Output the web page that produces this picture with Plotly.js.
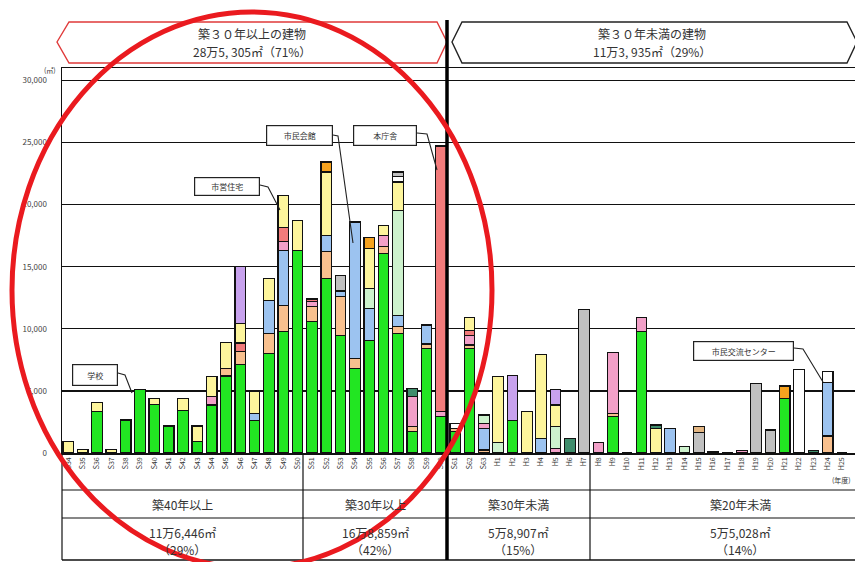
<!DOCTYPE html>
<html>
<head>
<meta charset="utf-8">
<script src="https://cdn.plot.ly/plotly-3.0.1.min.js"></script>
<style>html,body{margin:0;padding:0;background:#fff;}#chart{width:855px;height:562px;}</style>
</head>
<body>
<div id="chart"></div>
<script>
// ---- data ----
const categories = ["S34","S35","S36","S37","S38","S39","S40","S41","S42","S43","S44","S45","S46","S47","S48","S49","S50",
  "S51","S52","S53","S54","S55","S56","S57","S58","S59","S60",
  "S61","S62","S63","H1","H2","H3","H4","H5","H6","H7",
  "H8","H9","H10","H11","H12","H13","H14","H15","H16","H17","H18","H19","H20","H21","H22","H23","H24","H25"];

const seriesNames = ["学校教育系施設","子育て支援施設","市民文化系施設","保健・福祉施設","行政系施設","社会教育系施設","公営住宅","スポーツ・レクリエーション系施設","産業系施設","公園","供給処理施設","その他","上下水道施設"];
const seriesColors = ["#22e622","#f8c08e","#9cc3f0","#f2a0c8","#f27b7b","#cdf2cd","#fdf59c","#c8a2ee","#f5a21f","#ffffff","#c0c0c0","#3f8d6c","#e3b683"];

// values per category (m2), index 0..54
const green = [0,0,3320,0,2650,5120,3910,2170,3400,910,3860,6200,7100,2600,8020,9760,16330,
  10560,14050,9490,6810,9090,16060,9630,1710,8420,2920,
  1700,8420,0,0,2600,0,0,0,0,0,
  0,2920,0,9760,0,0,0,0,0,0,0,0,0,4400,0,0,0,0];
const peach = [0,0,0,0,0,0,0,0,0,0,0,600,1050,0,1610,2090,0,
  1210,2150,3080,800,0,590,530,410,350,0,
  250,270,250,0,0,0,0,0,0,0,
  0,270,0,0,0,0,0,0,0,0,0,0,0,0,0,0,1370,0];
const blue = [0,0,0,0,0,0,0,0,0,0,0,0,0,590,2680,4480,0,
  0,1330,480,10990,2550,0,940,0,1530,0,
  0,0,1730,0,0,0,1180,0,0,0,
  0,0,0,0,0,1980,0,0,0,0,0,0,0,0,0,0,4280,0];
const pink = [0,0,0,0,0,0,0,0,0,0,670,0,0,0,0,670,0,
  400,0,0,0,0,880,0,2410,0,400,
  0,800,410,0,0,0,0,380,0,0,
  850,4880,0,1150,0,0,0,0,0,0,200,0,0,0,0,0,0,0];
const red = [0,0,0,0,0,0,0,0,0,0,0,0,700,0,0,1150,0,
  230,0,0,0,0,0,0,0,0,21400,
  0,350,0,0,0,0,0,0,0,0,
  0,0,0,0,0,0,0,0,0,0,0,0,0,0,0,0,0,0];
const lightgreen = [0,0,0,0,0,0,0,0,0,0,0,0,0,0,0,0,0,
  0,0,0,0,1610,0,8440,0,0,0,
  0,0,670,830,0,0,0,1740,0,0,
  0,0,0,0,0,0,510,0,0,0,0,0,0,0,0,0,0,0];
const yellow = [910,300,730,300,0,0,490,0,1000,1260,1660,2100,1600,1740,1740,2600,2410,
  0,5090,0,0,3210,810,2280,0,0,0,
  0,1070,0,5360,0,3320,6780,1740,0,0,
  0,0,0,0,1980,0,0,0,0,0,0,0,0,0,0,0,0,0];
const purple = [0,0,0,0,0,0,0,0,0,0,0,0,4550,0,0,0,0,
  0,0,0,0,0,0,0,0,0,0,
  0,0,0,0,3620,0,0,1260,0,0,
  0,0,0,0,0,0,0,0,0,0,0,0,0,0,0,0,0,0];
const orange = [0,0,0,0,0,0,0,0,0,0,0,0,0,0,0,0,0,
  0,810,0,0,890,0,0,0,0,0,
  0,0,0,0,0,0,0,0,0,0,
  0,0,0,0,0,0,0,0,0,0,0,0,0,990,0,0,0,0];
const white = [0,0,0,0,0,0,0,0,0,0,0,0,0,0,0,0,0,
  0,0,0,0,0,0,460,0,0,0,
  450,0,0,0,0,0,0,0,0,0,
  0,0,0,0,0,0,0,0,0,0,0,0,0,0,6730,0,890,0];
const gray = [0,0,0,0,0,0,0,0,0,0,0,0,0,0,0,0,0,
  0,0,1270,0,0,0,350,0,0,0,
  0,0,0,0,0,0,0,0,0,11560,
  0,0,0,0,0,0,0,1630,120,0,0,5600,1850,0,0,0,0,0];
const teal = [0,0,0,0,0,0,0,0,0,0,0,0,0,0,0,0,0,
  0,0,0,0,0,0,0,670,0,0,
  0,0,0,0,0,0,0,0,1180,0,
  0,0,0,0,270,0,0,0,0,0,0,0,0,0,0,180,0,0];
const tan = [0,0,0,0,0,0,0,0,0,0,0,0,0,0,0,0,0,
  0,0,0,0,0,0,0,0,0,0,
  0,0,0,0,0,0,0,0,0,0,
  0,0,0,0,0,0,0,490,0,0,0,0,0,0,0,0,0,0];

const yTickVals = [0,5000,10000,15000,20000,25000,30000];
const yTickText = ["0","5,000","10,000","15,000","20,000","25,000","30,000"];

const headerTexts = ["築３０年以上の建物","28万5, 305㎡（71%）","築３０年未満の建物","11万3, 935㎡（29%）"];
const groupNames = ["築40年以上","築30年以上","築30年未満","築20年未満"];
const groupAreas = ["11万6,446㎡","16万8,859㎡","5万8,907㎡","5万5,028㎡"];
const groupShares = ["（29%）","（42%）","（15%）","（14%）"];
const callouts = ["学校","市営住宅","市民会館","本庁舎","市民交流センター"];

// ---- build ----
const FONT = "Noto Sans CJK JP, Noto Sans, sans-serif";
const L=62, R=855, T=68, B=453;
const px = x => (x-L)/(R-L);
const py = y => (B-y)/(B-T);

const allSeries = [green,peach,blue,pink,red,lightgreen,yellow,purple,orange,white,gray,teal,tan];
const traces = allSeries.map((vals,i)=>({
  type:'bar', x:categories, y:vals, name:seriesNames[i],
  marker:{color:seriesColors[i], line:{color:'#111', width:1.2}},
  width:0.74, hoverinfo:'skip'
}));

function path(pts, close){
  let s = pts.map((p,i)=>(i?'L':'M')+px(p[0]).toFixed(5)+','+py(p[1]).toFixed(5)).join(' ');
  return close ? s+' Z' : s;
}
function hline(y,x0,x1,w,c){return {type:'line',xref:'paper',yref:'paper',x0:px(x0),x1:px(x1),y0:py(y),y1:py(y),line:{color:c||'#111',width:w||1.2},layer:'above'};}
function vline(x,y0,y1,w,c){return {type:'line',xref:'paper',yref:'paper',x0:px(x),x1:px(x),y0:py(y0),y1:py(y1),line:{color:c||'#111',width:w||1.2},layer:'above'};}

const shapes = [
  // header hexagons
  {type:'path',xref:'paper',yref:'paper',path:path([[57,42],[69,22],[437,22],[447,42],[437,63],[69,63]],true),line:{color:'#e03a3a',width:1.4},fillcolor:'rgba(0,0,0,0)'},
  {type:'path',xref:'paper',yref:'paper',path:path([[452,42],[462,22],[847,22],[857,42],[847,63],[462,63]],true),line:{color:'#222',width:1.4},fillcolor:'rgba(0,0,0,0)'},
  // table lines
  vline(62,453,560), vline(303,453,560), vline(590,453,560),
  hline(490,62,855), hline(518,62,855), hline(560,62,855,1.4),
  // thick divider
  vline(447,20,560,3.5,'#000'),
  // callout connectors
  {type:'path',xref:'paper',yref:'paper',path:path([[118,373],[125,375],[132,393]]),line:{color:'#222',width:1.1}},
  {type:'path',xref:'paper',yref:'paper',path:path([[260,185],[268,187],[280,210]]),line:{color:'#222',width:1.1}},
  {type:'path',xref:'paper',yref:'paper',path:path([[333,135],[338,136],[353,243]]),line:{color:'#222',width:1.1}},
  {type:'path',xref:'paper',yref:'paper',path:path([[417,133],[427,134],[437,170]]),line:{color:'#222',width:1.1}},
  {type:'path',xref:'paper',yref:'paper',path:path([[794,348],[803,349],[823,382]]),line:{color:'#222',width:1.1}},
  // red ellipse
  {type:'circle',xref:'paper',yref:'paper',x0:px(12),x1:px(492),y0:py(568),y1:py(12),line:{color:'#ea1a1f',width:5},fillcolor:'rgba(0,0,0,0)',layer:'above'}
];

function txt(t,x,y,size,opts){
  return Object.assign({text:t,xref:'paper',yref:'paper',x:px(x),y:py(y),xanchor:'center',yanchor:'middle',showarrow:false,
    font:{family:FONT,size:size,color:'#333'}},opts||{});
}
function box(t,x0,x1,y0,y1){
  return {text:t,xref:'paper',yref:'paper',x:px((x0+x1)/2),y:py((y0+y1)/2),xanchor:'center',yanchor:'middle',showarrow:false,
    font:{family:FONT,size:8,color:'#333'},bgcolor:'#fff',bordercolor:'#222',borderwidth:1.2,borderpad:2,
    width:(x1-x0)-6,height:(y1-y0)-6};
}

const annotations = [
  txt(headerTexts[0],252,33,12), txt(headerTexts[1],252,52,12),
  txt(headerTexts[2],652,33,12), txt(headerTexts[3],652,52,12),
  txt(groupNames[0],182,504,12), txt(groupNames[1],375,504,12), txt(groupNames[2],518,504,12), txt(groupNames[3],740,504,12),
  txt(groupAreas[0],182,532,12), txt(groupAreas[1],375,532,12), txt(groupAreas[2],518,532,12), txt(groupAreas[3],740,532,12),
  txt(groupShares[0],182,549,12), txt(groupShares[1],375,549,12), txt(groupShares[2],518,549,12), txt(groupShares[3],740,549,12),
  box(callouts[0],72,118,364,386),
  box(callouts[1],194,260,177,196),
  box(callouts[2],266,333,125,146),
  box(callouts[3],353,417,125,146),
  box(callouts[4],693,794,341,361),
  txt("(㎡)",50,70,7),
  txt("(年度)",853,480,7,{xanchor:'right'})
];

const layout = {
  width:855, height:562,
  margin:{l:62,r:0,t:68,b:109},
  barmode:'stack', showlegend:false,
  paper_bgcolor:'#fff', plot_bgcolor:'#fff',
  font:{family:FONT,color:'#333'},
  xaxis:{type:'category', range:[-0.44,54.9], tickangle:-90, tickfont:{family:FONT,size:7,color:'#333'},
    showline:true, linecolor:'#111', linewidth:1.5, mirror:true, ticks:'', showgrid:false, fixedrange:true, automargin:false},
  yaxis:{range:[0,31000], tickvals:yTickVals, ticktext:yTickText, tickfont:{family:FONT,size:8,color:'#444'},
    showgrid:true, gridcolor:'#111', gridwidth:1.2, showline:true, linecolor:'#111', linewidth:1.5,
    zeroline:false, ticks:'', ticklabelstandoff:12, fixedrange:true, automargin:false},
  shapes:shapes, annotations:annotations
};

Plotly.newPlot('chart', traces, layout, {displayModeBar:false, staticPlot:true});
</script>
</body>
</html>
